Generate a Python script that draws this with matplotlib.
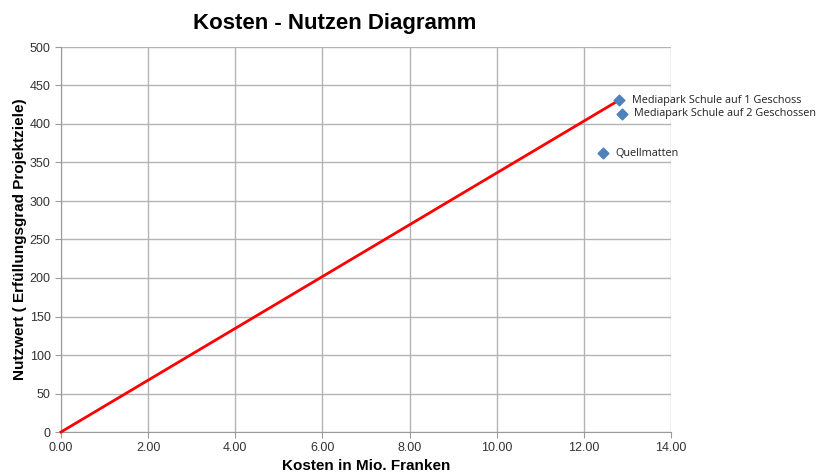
import matplotlib
matplotlib.use("Agg")
import matplotlib.pyplot as plt

names = ["Mediapark Schule auf 1 Geschoss", "Mediapark Schule auf 2 Geschossen", "Quellmatten"]
kosten = [12.81, 12.87, 12.43]
nutzwert = [431, 413, 362]
line_x = [0.0, 12.81]
line_y = [0, 431]

fig = plt.figure(figsize=(8.18, 4.73), dpi=100)
ax = fig.add_axes([61/818, 41/473, 610/818, 385/473])

ax.set_xlim(0, 14)
ax.set_ylim(0, 500)
ax.set_xticks(range(0, 15, 2))
ax.set_xticklabels([f"{v:.2f}" for v in range(0, 15, 2)])
ax.set_yticks(range(0, 501, 50))
ax.grid(True, color="#b4b4b4", linewidth=1)
ax.set_axisbelow(True)
for s in ["top", "right"]:
    ax.spines[s].set_visible(False)
for s in ["left", "bottom"]:
    ax.spines[s].set_color("#9a9a9a")
ax.tick_params(axis="both", colors="#9a9a9a", labelcolor="#333333", labelsize=9, length=4)
for lbl in ax.get_xticklabels() + ax.get_yticklabels():
    lbl.set_fontfamily("Liberation Sans")

ax.plot(line_x, line_y, color="#ff0000", linewidth=2, zorder=3, clip_on=False)
ax.scatter(kosten, nutzwert, marker="D", s=30, color="#4f81bd", zorder=4, clip_on=False)
for n, x, y in zip(names, kosten, nutzwert):
    ax.annotate(n, (x, y), xytext=(9, 0), textcoords="offset points", va="center",
                fontsize=7.8, family="Open Sans", color="#222222", annotation_clip=False)

ax.set_xlabel("Kosten in Mio. Franken", fontsize=11, fontweight="bold", family="Liberation Sans", labelpad=3)
ax.set_ylabel("Nutzwert ( Erfüllungsgrad Projektziele)", fontsize=11, fontweight="bold", family="Liberation Sans", labelpad=2)
fig.text(335/818, 1 - 23/473, "Kosten - Nutzen Diagramm", ha="center", va="center",
         fontsize=16, fontweight="bold", family="Liberation Sans")

fig.savefig("out.png", dpi=100)
